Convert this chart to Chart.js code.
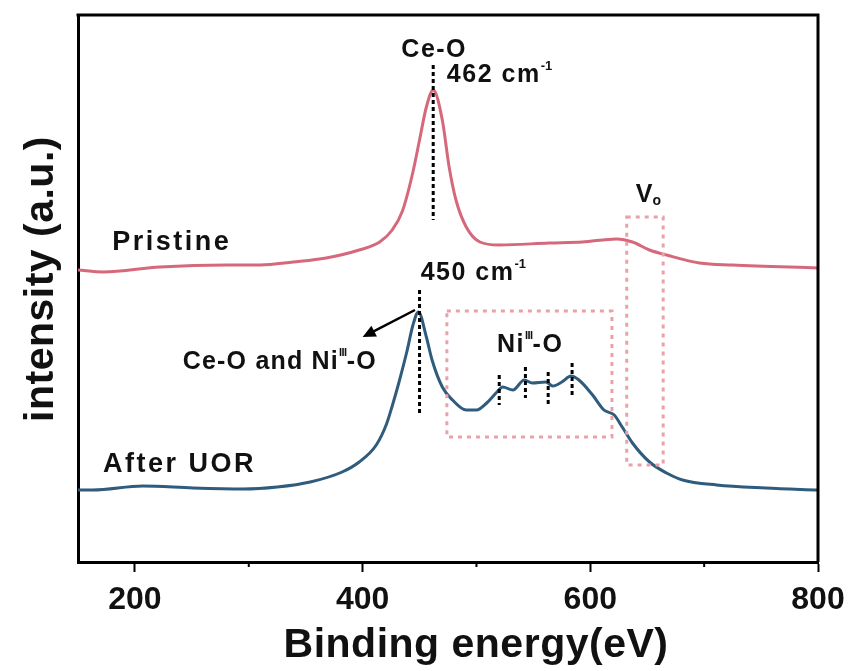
<!DOCTYPE html>
<html>
<head>
<meta charset="utf-8">
<script src="https://cdn.jsdelivr.net/npm/chart.js@4"></script>
<style>
  html, body { margin: 0; padding: 0; background: #fff; }
  #wrap { width: 855px; height: 671px; }
</style>
</head>
<body>
<div id="wrap"><canvas id="ramanChart" width="855" height="671"></canvas></div>
<script>
// energies (x) and intensities (a.u.)
var pristineX = [150, 172, 222, 281, 310, 339, 368, 397, 415, 426, 435, 444, 450, 456, 462, 470, 476, 482, 491, 503, 520, 564, 593, 623, 637, 652, 667, 696, 725, 800];
var pristineY = [292, 290, 295, 297, 297, 300, 304, 312, 320, 332, 351, 389, 422, 455, 472, 442, 395, 362, 335, 320, 317, 319, 320, 323, 320, 312, 307, 299, 297, 294];

var uorX = [150, 163, 207, 251, 295, 325, 354, 382, 397, 412, 421, 426, 432, 439, 444, 449, 456, 461, 470, 479, 491, 500, 509, 518, 523, 532, 542, 549, 561, 567, 575, 583, 590, 602, 612, 621, 628, 637, 652, 667, 681, 711, 754, 800];
var uorY = [72, 72, 76, 74, 73, 75, 80, 90, 100, 117, 138, 156, 180, 211, 236, 250, 225, 202, 175, 162, 152, 152, 159, 170, 175, 172, 182, 179, 180, 176, 180, 186, 182, 167, 152, 147, 135, 119, 100, 89, 82, 77, 74, 72];

var majorTicks = [200, 400, 600, 800];
var minorTicks = [300, 500, 700];

// peak markers: [x, yFrom, yTo]
var peakMarks = [[462, 497, 342], [450, 272, 149]];
var niMarks = [[520, 187, 157], [543, 195, 164], [563, 190, 157], [584, 199, 167]];
// dotted boxes: [x1, x2, yTop, yBottom]
var boxes = [[474, 619, 251, 125], [632, 664, 345, 97]];

function toPoints(xs, ys) {
    return xs.map(function (x, i) { return { x: x, y: ys[i] }; });
}

var FONT = "'Liberation Sans', Arial, sans-serif";

function drawLabel(ctx, parts, x, y) {
    // parts: [text, size, dy, spacing]
    var cx = x;
    parts.forEach(function (p) {
        ctx.font = 'bold ' + p[1] + 'px ' + FONT;
        ctx.letterSpacing = (p[3] || 0) + 'px';
        ctx.fillText(p[0], cx, y + (p[2] || 0));
        cx += ctx.measureText(p[0]).width;
    });
    ctx.letterSpacing = '0px';
}

var decorations = {
    id: 'decorations',
    afterDatasetsDraw: function (chart) {
        var ctx = chart.ctx;
        var xs = chart.scales.x, ys = chart.scales.y;
        var area = chart.chartArea;
        var px = function (v) { return xs.getPixelForValue(v); };
        var py = function (v) { return ys.getPixelForValue(v); };
        ctx.save();

        // frame top and right
        ctx.strokeStyle = '#000';
        ctx.lineWidth = 3;
        ctx.beginPath();
        ctx.moveTo(area.left - 1.5, area.top);
        ctx.lineTo(area.right, area.top);
        ctx.lineTo(area.right, area.bottom);
        ctx.stroke();

        // minor ticks
        ctx.lineWidth = 2;
        minorTicks.forEach(function (v) {
            ctx.beginPath();
            ctx.moveTo(px(v), area.bottom);
            ctx.lineTo(px(v), area.bottom + 5);
            ctx.stroke();
        });

        // dotted boxes
        ctx.strokeStyle = '#eaa2aa';
        ctx.lineWidth = 3;
        ctx.setLineDash([4, 5]);
        boxes.forEach(function (b) {
            ctx.strokeRect(px(b[0]), py(b[2]), px(b[1]) - px(b[0]), py(b[3]) - py(b[2]));
        });

        // dashed black markers
        ctx.strokeStyle = '#000';
        ctx.setLineDash([4, 3]);
        peakMarks.concat(niMarks).forEach(function (m) {
            ctx.beginPath();
            ctx.moveTo(px(m[0]), py(m[1]));
            ctx.lineTo(px(m[0]), py(m[2]));
            ctx.stroke();
        });
        ctx.setLineDash([]);

        // arrow
        var ax1 = px(446), ay1 = py(252), ax2 = px(400), ay2 = py(225);
        var ang = Math.atan2(ay2 - ay1, ax2 - ax1);
        ctx.lineWidth = 2.5;
        ctx.beginPath();
        ctx.moveTo(ax1, ay1);
        ctx.lineTo(ax2 - 8 * Math.cos(ang), ay2 - 8 * Math.sin(ang));
        ctx.stroke();
        ctx.fillStyle = '#000';
        ctx.beginPath();
        ctx.moveTo(ax2, ay2);
        ctx.lineTo(ax2 - 13 * Math.cos(ang) + 6 * Math.sin(ang), ay2 - 13 * Math.sin(ang) - 6 * Math.cos(ang));
        ctx.lineTo(ax2 - 13 * Math.cos(ang) - 6 * Math.sin(ang), ay2 - 13 * Math.sin(ang) + 6 * Math.cos(ang));
        ctx.closePath();
        ctx.fill();

        // annotations
        ctx.fillStyle = '#111';
        ctx.textBaseline = 'alphabetic';
        ctx.textAlign = 'left';
        drawLabel(ctx, [['Ce-O', 25, 0, 1.5]], px(434), py(505));
        drawLabel(ctx, [['462 cm', 25, 0, 1.5], ['-1', 13, -12, 0]], px(474), py(480));
        drawLabel(ctx, [['450 cm', 25, 0, 1.5], ['-1', 13, -12, 0]], px(451), py(282));
        drawLabel(ctx, [['Pristine', 27, 0, 2.5]], px(180), py(312));
        drawLabel(ctx, [['After UOR', 27, 0, 2.5]], px(172), py(90));
        drawLabel(ctx, [['Ce-O and Ni', 25, 0, 1.2], ['III', 11, -13, -0.5], ['-O', 25, 0, 1.2]], px(242), py(193));
        drawLabel(ctx, [['Ni', 25, 0, 1.5], ['III', 11, -13, -0.5], ['-O', 25, 0, 1.5]], px(518), py(210));
        drawLabel(ctx, [['V', 25, 0, 0], ['o', 14, 3, 0]], px(640), py(360));

        // axis titles
        ctx.fillStyle = '#111';
        ctx.textAlign = 'center';
        ctx.textBaseline = 'alphabetic';
        ctx.font = 'bold 41px ' + FONT;
        ctx.letterSpacing = '0.5px';
        ctx.fillText('Binding energy(eV)', 476, 657);
        ctx.save();
        ctx.translate(53, 279);
        ctx.rotate(-Math.PI / 2);
        ctx.fillText('intensity (a.u.)', 0, 0);
        ctx.restore();
        ctx.letterSpacing = '0px';

        ctx.restore();
    }
};

var ctx = document.getElementById('ramanChart').getContext('2d');
var ramanChart = new Chart(ctx, {
    type: 'line',
    data: {
        datasets: [{
            label: 'Pristine',
            data: toPoints(pristineX, pristineY),
            borderColor: '#d5697b',
            borderWidth: 3,
            pointRadius: 0,
            cubicInterpolationMode: 'monotone',
            fill: false
        }, {
            label: 'After UOR',
            data: toPoints(uorX, uorY),
            borderColor: '#2f5b7d',
            borderWidth: 3,
            pointRadius: 0,
            cubicInterpolationMode: 'monotone',
            fill: false
        }]
    },
    options: {
        responsive: false,
        animation: false,
        devicePixelRatio: 1,
        layout: { padding: { top: 15, right: 37, left: 0, bottom: 0 } },
        plugins: {
            legend: { display: false },
            tooltip: { enabled: false }
        },
        scales: {
            x: {
                type: 'linear',
                min: 150,
                max: 800,
                afterBuildTicks: function (scale) {
                    scale.ticks = majorTicks.map(function (v) { return { value: v }; });
                },
                afterFit: function (scale) { scale.height = 109; },
                ticks: {
                    color: '#111',
                    padding: 9,
                    font: { family: FONT, size: 32, weight: 'bold' }
                },
                grid: {
                    display: true,
                    drawOnChartArea: false,
                    drawTicks: true,
                    tickLength: 10,
                    tickWidth: 2,
                    tickColor: '#000'
                },
                border: { display: true, color: '#000', width: 3 },
                title: { display: false }
            },
            y: {
                min: 0,
                max: 547,
                afterFit: function (scale) { scale.width = 78; },
                ticks: { display: false },
                grid: { display: false },
                border: { display: true, color: '#000', width: 3 },
                title: { display: false }
            }
        }
    },
    plugins: [decorations]
});
</script>
</body>
</html>
